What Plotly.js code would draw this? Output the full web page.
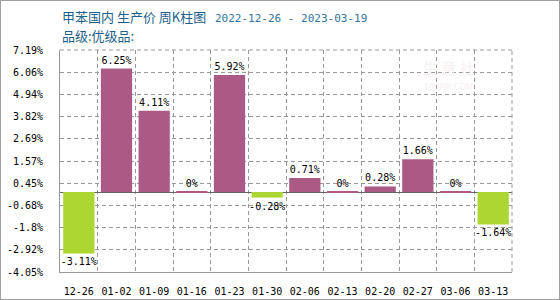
<!DOCTYPE html>
<html><head><meta charset="utf-8">
<script src="https://cdn.plot.ly/plotly-3.0.1.min.js"></script>
<style>
html,body{margin:0;padding:0;background:#fff;}
#wrap{width:560px;height:300px;box-sizing:border-box;border:1px solid #a0a0a0;overflow:hidden;}
#chart{width:558px;height:298px;}
</style></head>
<body><div id="wrap"><div id="chart"></div></div>
<script>
const categories = ["12-26","01-02","01-09","01-16","01-23","01-30","02-06","02-13","02-20","02-27","03-06","03-13"];
const values = [-3.11, 6.25, 4.11, 0, 5.92, -0.28, 0.71, 0, 0.28, 1.66, 0, -1.64];
const yTickVals = [7.19, 6.06, 4.94, 3.82, 2.69, 1.57, 0.45, -0.68, -1.8, -2.92, -4.05];
const yTickText = yTickVals.map(v => v + "%");
const titleMain = "甲苯国内 生产价 周K柱图";
const titleDates = "2022-12-26 - 2023-03-19";
const subtitle = "品级:优级品:";

const posColor = "#ab5a85";
const negColor = "#add633";
const gridColor = "#999999";
const gridDash = "4px,3px";
const mono = "DejaVu Sans Mono, monospace";

const trace = {
  type: "bar",
  x: categories,
  y: values,
  marker: {color: values.map(v => v < 0 ? negColor : posColor)},
  text: values.map(v => v + "%"),
  textposition: "outside",
  constraintext: "none",
  cliponaxis: false,
  textfont: {family: mono, size: 10, color: "#000"},
  hoverinfo: "none"
};

const shapes = [];
values.forEach((v, i) => {
  if (v === 0) {
    shapes.push({type: "line", xref: "x", yref: "y", x0: i - 0.415, x1: i + 0.415, y0: 0, y1: 0,
      line: {color: posColor, width: 2}});
  }
});

const annotations = [
  {xref: "paper", yref: "paper", x: 0, y: 1.15, xanchor: "left", yanchor: "middle", showarrow: false,
   text: titleMain + "   <span style='font-family:DejaVu Sans Mono;font-size:11px;color:#3374a3'>" + titleDates + "</span>",
   font: {family: "Noto Sans CJK SC", size: 13, color: "#1d5f8a"}},
  {xref: "paper", yref: "paper", x: 0, y: 1.065, xanchor: "left", yanchor: "middle", showarrow: false,
   text: subtitle, font: {family: "Noto Sans CJK SC", size: 13, color: "#1d5f8a"}},
  {xref: "paper", yref: "paper", x: 0.86, y: 0.92, xanchor: "center", yanchor: "middle", showarrow: false,
   text: "生 意 社", font: {family: "Noto Sans CJK SC", size: 15, color: "#f7f0f0"}},
  {xref: "paper", yref: "paper", x: 0.86, y: 0.83, xanchor: "center", yanchor: "middle", showarrow: false,
   text: "100PPI.COM", font: {family: "DejaVu Sans", size: 8, color: "#f5f0f0"}}
];

const layout = {
  width: 558, height: 298,
  margin: {l: 59, r: 47, t: 49, b: 27, pad: 0},
  paper_bgcolor: "#fff", plot_bgcolor: "#fff",
  showlegend: false,
  bargap: 0.17,
  xaxis: {
    type: "category", range: [-0.5, 11.5], tickson: "boundaries",
    showgrid: true, gridcolor: gridColor, griddash: gridDash, gridwidth: 1,
    showline: true, linecolor: "#999", linewidth: 1,
    ticks: "", ticklabelstandoff: 10, tickangle: 0,
    tickfont: {family: mono, size: 10, color: "#000"}
  },
  yaxis: {
    range: [-4.05, 7.19], tickmode: "array", tickvals: yTickVals, ticktext: yTickText,
    showgrid: true, gridcolor: gridColor, griddash: gridDash, gridwidth: 1,
    showline: true, linecolor: "#999", linewidth: 1,
    zeroline: true, zerolinecolor: "#666", zerolinewidth: 1,
    ticks: "outside", ticklen: 14, tickcolor: "rgba(0,0,0,0)",
    tickfont: {family: mono, size: 10, color: "#000"}
  },
  shapes: shapes.concat([
    {type: "line", xref: "paper", yref: "paper", x0: 1, x1: 1, y0: 0, y1: 1, line: {color: gridColor, width: 1, dash: gridDash}},
    {type: "line", xref: "paper", yref: "paper", x0: 0, x1: 1, y0: 1, y1: 1, line: {color: gridColor, width: 1, dash: gridDash}}
  ]),
  annotations: annotations
};

Plotly.newPlot("chart", [trace], layout, {displayModeBar: false});
</script></body></html>
